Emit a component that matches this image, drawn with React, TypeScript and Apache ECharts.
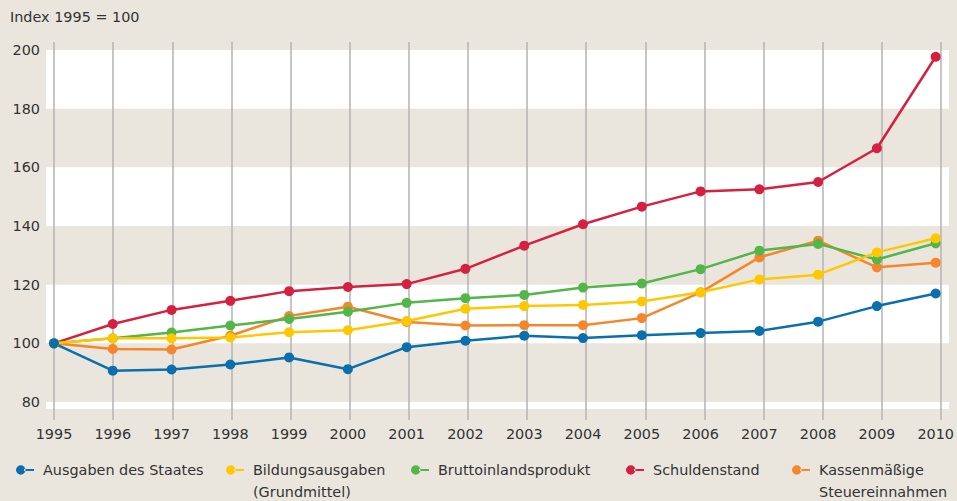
import React, { useEffect, useRef } from "react";
import * as echarts from "echarts";

const years = ["1995","1996","1997","1998","1999","2000","2001","2002","2003","2004","2005","2006","2007","2008","2009","2010"];

const ausgaben = [100, 90.7, 91.1, 92.8, 95.2, 91.2, 98.7, 100.9, 102.6, 101.8, 102.8, 103.5, 104.2, 107.4, 112.7, 117.0];
const bildung = [100, 101.7, 101.7, 102.0, 103.8, 104.5, 107.6, 111.8, 112.7, 113.1, 114.3, 117.4, 121.8, 123.4, 131.0, 135.8];
const bip = [100, 101.7, 103.7, 106.1, 108.3, 110.8, 113.8, 115.4, 116.5, 119.0, 120.4, 125.3, 131.6, 133.9, 128.6, 134.1];
const schulden = [100, 106.6, 111.4, 114.5, 117.8, 119.2, 120.2, 125.4, 133.3, 140.6, 146.6, 151.8, 152.5, 155.0, 166.5, 197.7];
const kassen = [100, 98.1, 97.9, 102.6, 109.3, 112.5, 107.3, 106.1, 106.2, 106.2, 108.6, 117.4, 129.3, 135.0, 125.9, 127.5];

const seriesNames = ["Ausgaben des Staates", "Bildungsausgaben (Grundmittel)", "Bruttoinlandsprodukt", "Schuldenstand", "Kassenmäßige Steuereinnahmen"];
const legendLines = [["Ausgaben des Staates"], ["Bildungsausgaben", "(Grundmittel)"], ["Bruttoinlandsprodukt"], ["Schuldenstand"], ["Kassenmäßige", "Steuereinnahmen"]];
const seriesColors = ["#0a6fad", "#fec800", "#52b648", "#d6203f", "#f5862a"];
const seriesValues = [ausgaben, bildung, bip, schulden, kassen];
// drawing order bottom -> top
const drawOrder = [3, 4, 2, 1, 0];

const whiteBands = [[180, 200], [140, 160], [100, 120], [77.6, 80]];
const yTicks = [80, 100, 120, 140, 160, 180, 200];

const FONT = "'DejaVu Sans', sans-serif";
const FS = 14.4;
const TXT = "#333333";

export default function App() {
  const ref = useRef<HTMLDivElement>(null);
  useEffect(() => {
    document.body.style.margin = "0";
    const chart = echarts.init(ref.current!, null, { renderer: "svg" });
    const legendLefts = [16, 226, 411, 626, 792];
    const LH = 22;
    const icon = "path://M0,4.75a4.75,4.75 0 1,0 9.5,0a4.75,4.75 0 1,0 -9.5,0zM8,3.75h10v2h-10z";
    const legends = seriesNames.map((name, i) => {
      const two = legendLines[i].length > 1;
      return {
        data: [name],
        left: legendLefts[i],
        top: two ? 437 : 459,
        padding: 0,
        icon,
        itemWidth: 18,
        itemHeight: 9.5,
        selectedMode: false,
        formatter: () => (two ? "\u00a0\n" : "") + legendLines[i].join("\n"),
        textStyle: {
          fontFamily: FONT,
          fontSize: FS,
          color: TXT,
          lineHeight: LH,
          padding: [0, 0, 0, 4],
        },
      };
    });
    const top2 = 35.3;
    const bottom2 = 84.3;
    const option: any = {
      animation: false,
      backgroundColor: "#eae6de",
      textStyle: { fontFamily: FONT },
      title: {
        text: "Index 1995 = 100",
        left: 10,
        top: 10,
        padding: 0,
        textStyle: { fontFamily: FONT, fontSize: FS, fontWeight: "normal", color: TXT },
      },
      legend: legends,
      grid: [
        { left: 46, right: 8, top: top2, bottom: bottom2 },
        { left: 54, right: 16, top: 42, bottom: 81 },
        { left: 54, right: 16, top: top2, bottom: bottom2 },
      ],
      xAxis: [
        { gridIndex: 0, type: "category", data: years, show: false },
        {
          gridIndex: 1, type: "category", data: years, boundaryGap: false, z: 2,
          axisLine: { show: false }, axisTick: { show: false }, axisLabel: { show: false },
          splitLine: { show: true, lineStyle: { color: "#b3b3b3", width: 1.5 } },
        },
        {
          gridIndex: 2, type: "category", data: years, boundaryGap: false,
          axisLine: { show: false }, axisTick: { show: false }, splitLine: { show: false },
          axisLabel: { color: TXT, fontSize: FS, fontFamily: FONT, margin: 10 },
        },
      ],
      yAxis: [
        { gridIndex: 0, type: "value", min: 75, max: 205, show: false },
        { gridIndex: 1, type: "value", show: false },
        {
          gridIndex: 2, type: "value", min: 75, max: 205, interval: 5,
          axisLine: { show: false }, axisTick: { show: false }, splitLine: { show: false },
          axisLabel: {
            color: TXT, fontSize: FS, fontFamily: FONT, margin: 14,
            formatter: (v: number) => (yTicks.indexOf(v) >= 0 ? String(v) : ""),
          },
        },
      ],
      series: [
        {
          type: "line", name: "bands", xAxisIndex: 0, yAxisIndex: 0, data: [], z: 0,
          markArea: {
            silent: true, z: 0,
            itemStyle: { color: "#ffffff" },
            data: whiteBands.map((b) => [{ yAxis: b[1] }, { yAxis: b[0] }]),
          },
        },
        ...drawOrder.map((i) => ({
          type: "line",
          name: seriesNames[i],
          xAxisIndex: 2,
          yAxisIndex: 2,
          data: seriesValues[i],
          z: 3,
          symbol: "circle",
          symbolSize: 10,
          color: seriesColors[i],
          lineStyle: { color: seriesColors[i], width: 2.5 },
          itemStyle: { color: seriesColors[i] },
        })),
      ],
    };
    chart.setOption(option);
    return () => chart.dispose();
  }, []);
  return <div ref={ref} style={{ width: 957, height: 501 }} />;
}
